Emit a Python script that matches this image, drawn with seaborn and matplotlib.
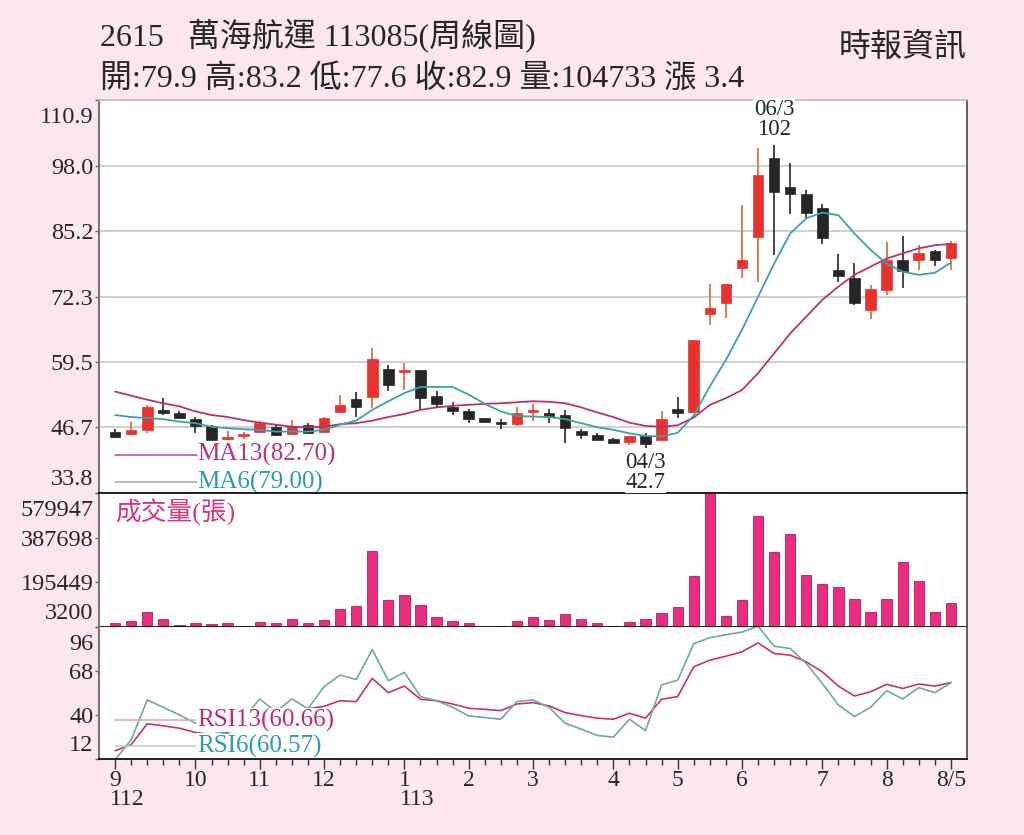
import numpy as np
import pandas as pd
import matplotlib
matplotlib.use("Agg")
import matplotlib.pyplot as plt
import matplotlib.transforms as mtransforms
import seaborn as sns

# ─────────────────────────────────────────────
# DATA  (weekly bars, 112/09 -> 113/08/05)
# ─────────────────────────────────────────────
open_px = [45.85, 45.3, 46.2, 50.1, 49.5, 48.3, 47.0, 44.4, 45.0, 45.85,
           46.7, 45.4, 47.2, 45.85, 49.6, 52.2, 52.7, 58.1, 57.6, 57.9,
           52.9, 50.6, 49.8, 48.5, 47.6, 47.4, 49.7, 49.5, 49.1, 46.05,
           45.2, 44.3, 43.9, 44.9, 44.2, 50.3, 49.6, 68.9, 71.0, 78.0,
           84.1, 99.6, 93.9, 92.4, 89.8, 77.5, 75.9, 69.7, 73.6, 79.6,
           79.5, 81.3, 79.9]
high_px = [46.3, 47.8, 51.1, 52.4, 49.8, 48.7, 47.2, 45.9, 45.8, 48.0,
           47.2, 48.1, 47.5, 48.8, 53.1, 53.7, 62.3, 59.0, 59.3, 58.0,
           53.9, 51.7, 50.2, 48.6, 48.3, 50.6, 51.3, 50.2, 50.1, 46.3,
           45.5, 44.5, 45.0, 45.5, 49.8, 52.6, 63.9, 74.9, 74.9, 90.3,
           101.4, 102.0, 98.6, 93.2, 90.4, 80.7, 79.0, 74.6, 83.1, 84.2,
           82.4, 81.5, 83.2]
low_px = [44.7, 45.2, 45.5, 49.1, 48.3, 45.5, 44.2, 44.2, 44.3, 45.5,
          45.0, 45.2, 45.4, 45.65, 49.5, 48.7, 50.4, 53.9, 54.1, 50.1,
          50.4, 49.1, 47.5, 47.7, 46.3, 47.0, 48.0, 47.6, 43.7, 44.3,
          44.1, 43.6, 43.2, 42.7, 44.1, 48.5, 49.5, 66.8, 68.1, 75.9,
          75.1, 80.5, 88.5, 87.8, 82.6, 75.1, 70.7, 67.9, 72.6, 74.1,
          77.5, 78.4, 77.6]
close_px = [44.85, 46.2, 50.6, 49.5, 48.5, 47.0, 44.2, 44.8, 45.3, 47.6,
            45.2, 47.0, 45.65, 48.6, 51.1, 50.6, 60.1, 55.0, 58.0, 52.4,
            51.3, 49.8, 48.3, 47.8, 47.4, 49.5, 50.0, 48.7, 46.5, 45.2,
            44.2, 43.7, 44.9, 43.4, 48.3, 49.5, 63.8, 70.0, 74.9, 79.6,
            96.2, 92.9, 92.4, 88.7, 83.8, 76.4, 71.1, 73.8, 79.6, 77.3,
            80.8, 79.5, 82.9]
ma13 = [53.7, 52.9, 52.1, 51.4, 50.8, 49.8, 49.1, 48.7, 48.1, 47.6,
        47.2, 46.8, 46.7, 46.8, 47.3, 47.5, 48.0, 48.7, 49.3, 50.1,
        50.6, 50.9, 51.1, 51.3, 51.4, 51.6, 51.8, 51.7, 51.4, 50.6,
        49.6, 48.7, 47.6, 46.96, 46.8, 47.1, 48.6, 51.1, 52.4, 54.0,
        57.3, 61.2, 65.1, 68.4, 71.7, 74.3, 76.6, 78.2, 79.8, 80.8,
        81.8, 82.4, 82.7]
ma6 = [49.1, 48.7, 48.5, 48.3, 47.8, 47.5, 46.8, 46.5, 46.3, 46.2,
       45.85, 45.85, 45.85, 46.2, 47.2, 48.0, 50.1, 51.8, 53.4, 54.6,
       54.6, 54.6, 53.1, 51.3, 49.8, 48.9, 48.8, 48.7, 48.3, 47.5,
       46.7, 46.2, 45.5, 45.0, 44.9, 45.6, 49.0, 54.7, 59.9, 65.8,
       72.3, 78.8, 84.7, 87.7, 88.8, 88.3, 84.7, 81.5, 78.8, 77.2,
       76.6, 77.0, 79.0]
volume = [22000, 27900, 68200, 36500, 11900, 22000, 17600, 19200, 8800, 23400,
          19200, 39200, 19200, 33600, 79800, 94300, 331400, 120300, 142000, 98600,
          47900, 27900, 22000, 3200, 8800, 29200, 46600, 33600, 59600, 36500,
          19200, 8800, 24900, 36500, 62500, 88600, 224300, 579947, 50900, 120300,
          480200, 325400, 405100, 227400, 188300, 173600, 123300, 69600, 121600, 282000,
          201300, 69600, 104733]
rsi13 = [17.3, 21.1, 34.4, 33.1, 31.6, 28.9, 30.0, 29.0, 33.0, 40.0,
         40.0, 42.0, 44.0, 45.5, 49.1, 48.5, 63.3, 54.2, 58.4, 50.0,
         49.1, 47.0, 44.3, 43.6, 42.8, 47.0, 47.9, 45.8, 41.5, 39.6,
         38.0, 37.3, 41.1, 38.0, 50.0, 51.7, 70.7, 74.9, 77.4, 80.2,
         85.9, 79.1, 78.1, 73.8, 67.5, 58.4, 52.1, 54.8, 59.5, 56.9,
         59.7, 58.4, 60.66]
rsi6 = [11.5, 24.2, 49.6, 44.9, 40.1, 34.8, 30.0, 28.0, 38.0, 50.2,
        42.0, 50.2, 44.0, 58.0, 65.4, 62.6, 81.6, 61.8, 67.1, 51.7,
        49.1, 44.9, 39.4, 38.4, 37.3, 48.5, 49.6, 44.9, 34.8, 31.0,
        27.0, 25.9, 37.3, 30.1, 59.1, 62.2, 85.4, 89.2, 91.1, 92.8,
        96.5, 83.8, 82.3, 72.8, 60.1, 46.4, 39.0, 44.9, 55.5, 50.2,
        57.4, 54.2, 60.57]
week = list(range(len(close_px)))

month_pos = [0, 5, 9, 13, 18, 22, 26, 31, 35, 39, 44, 48, 52]
month_lbl = ["9", "10", "11", "12", "1", "2", "3", "4", "5", "6", "7", "8", "8/5"]
year_pos = [0, 18]
year_lbl = ["112", "113"]
price_ticks = [33.8, 46.7, 59.5, 72.3, 85.2, 98.0, 110.9]
vol_ticks = [3200, 195449, 387698, 579947]
rsi_ticks = [12, 40, 68, 96]

# ─────────────────────────────────────────────
# STYLE
# ─────────────────────────────────────────────
PINK_BG = "#fce7ef"
RED = "#e8322e"
RED_WICK = "#cf6a3a"
BLACK = "#262626"
MA13_C = "#b8336a"
MA6_C = "#3c9fae"
VOL_C = "#ec2c80"

sns.set_theme(style="white")
plt.rcParams["font.family"] = ["Liberation Serif", "Noto Sans CJK TC"]

fig = plt.figure(figsize=(10.24, 8.35), dpi=100, facecolor=PINK_BG)
L, W = 99 / 1024, 868 / 1024
ax_p = fig.add_axes([L, 1 - 493 / 835, W, 393 / 835])
ax_v = fig.add_axes([L, 1 - 627 / 835, W, 134 / 835], sharex=ax_p)
ax_r = fig.add_axes([L, 1 - 759 / 835, W, 132 / 835], sharex=ax_p)
ax_p.set_zorder(3)

df = pd.DataFrame({"week": week, "open": open_px, "high": high_px,
                   "low": low_px, "close": close_px})
up = (df["close"] >= df["open"]).to_numpy()
body_lo = np.minimum(df["open"], df["close"])
body_h = np.maximum((df["close"] - df["open"]).abs(), 0.35)

# --- price panel ---
ax_p.vlines(df["week"], df["low"], df["high"],
            colors=np.where(up, RED_WICK, BLACK), lw=1.2, zorder=2)
ax_p.bar(df["week"], body_h, bottom=body_lo, width=0.66,
         color=np.where(up, RED, BLACK), edgecolor=np.where(up, RED, BLACK),
         linewidth=0.5, zorder=2.1)
sns.lineplot(x=week, y=ma13, color=MA13_C, lw=1.3, ax=ax_p, zorder=2.3)
sns.lineplot(x=week, y=ma6, color=MA6_C, lw=1.3, ax=ax_p, zorder=2.3)

ax_p.set_ylim(price_ticks[0], price_ticks[-1])
ax_p.set_yticks(price_ticks, [f"{t:.1f}" for t in price_ticks])
ax_p.yaxis.grid(True, color="#c8c8c8", lw=1.2)
ax_p.set_axisbelow(True)

ax_p.annotate("06/3\n102", xy=(41, 102.0), xytext=(0, 4), textcoords="offset points",
              ha="center", va="bottom", fontsize=16.5, linespacing=0.95,
              bbox=dict(fc="white", ec="none", pad=0.3), zorder=4)
ax_p.annotate("04/3\n42.7", xy=(33, 42.7), xytext=(0, -3), textcoords="offset points",
              ha="center", va="top", fontsize=16.5, linespacing=0.95,
              bbox=dict(fc="white", ec="none", pad=0.3), zorder=4)

# MA legend
ax_p.plot([0.018, 0.113], [0.097, 0.097], transform=ax_p.transAxes, color="#c04a78", lw=1.1)
ax_p.plot([0.018, 0.113], [0.028, 0.028], transform=ax_p.transAxes, color="#9aabab", lw=1.1)
ax_p.text(0.113, 0.097, "MA13(82.70)", transform=ax_p.transAxes, color="#c03070",
          fontsize=18, va="center", ha="left", zorder=2.4)
ax_p.text(0.113, 0.028, "MA6(79.00)", transform=ax_p.transAxes, color="#2a9ab5",
          fontsize=18, va="center", ha="left", zorder=2.4)

# --- volume panel ---
sns.barplot(x=week, y=volume, native_scale=True, width=0.64, color=VOL_C,
            saturation=1, edgecolor="#a8205a", linewidth=0.6, errorbar=None, ax=ax_v)
ax_v.set_ylim(vol_ticks[0], vol_ticks[-1])
ax_v.set_yticks(vol_ticks, [str(t) for t in vol_ticks])
ax_v.text(0.018, 0.855, "成交量(張)", transform=ax_v.transAxes, color="#e0307a",
          fontsize=18.5, va="center", ha="left")

# --- RSI panel ---
sns.lineplot(x=week, y=rsi13, color="#c8306b", lw=1.2, ax=ax_r, zorder=2)
sns.lineplot(x=week, y=rsi6, color="#6aa8aa", lw=1.2, ax=ax_r, zorder=2)
ax_r.set_ylim(rsi_ticks[0], rsi_ticks[-1])
ax_r.set_yticks(rsi_ticks, [str(t) for t in rsi_ticks])

ax_r.plot([0.018, 0.113], [0.295, 0.295], transform=ax_r.transAxes, color="#e0a0b8", lw=1.1)
ax_r.plot([0.018, 0.113], [0.098, 0.098], transform=ax_r.transAxes, color="#c0cccc", lw=1.1)
ax_r.text(0.113, 0.295, "RSI13(60.66)", transform=ax_r.transAxes, color="#c8286a",
          fontsize=18, va="center", ha="left", zorder=2.4,
          bbox=dict(fc="white", ec="none", pad=0.6))
ax_r.text(0.113, 0.098, "RSI6(60.57)", transform=ax_r.transAxes, color="#2a9ab5",
          fontsize=18, va="center", ha="left", zorder=2.4,
          bbox=dict(fc="white", ec="none", pad=0.6))

# --- x axis ---
ax_r.set_xlim(-1, 53)
ax_r.set_xticks(month_pos, month_lbl)
ax_r.set_xticks(week, minor=True)
ax_r.tick_params(axis="x", which="major", direction="out", length=7, width=1,
                 color="#333333", labelsize=17, pad=1, bottom=True)
ax_r.tick_params(axis="x", which="minor", direction="out", length=4, width=1,
                 color="#333333", bottom=True)
for pos, lbl in zip(year_pos, year_lbl):
    ax_r.text(pos - 0.3, -0.31, lbl, transform=ax_r.get_xaxis_transform(),
              ha="left", va="center", fontsize=17)

for ax in (ax_p, ax_v):
    ax.tick_params(axis="x", which="both", bottom=False, labelbottom=False)

# --- frames / y ticks ---
shift_down = mtransforms.ScaledTranslation(0, -0.07, fig.dpi_scale_trans)
shift_up = mtransforms.ScaledTranslation(0, 0.03, fig.dpi_scale_trans)
for ax in (ax_p, ax_v, ax_r):
    ax.set_facecolor("white")
    ax.set_xlabel("")
    ax.set_ylabel("")
    ax.tick_params(axis="y", direction="out", length=3, width=1, color="#666666",
                   labelsize=17.5, pad=1, left=True)
    ax.spines["left"].set_color("#777777")
    ax.spines["left"].set_linewidth(1.5)
    ax.spines["right"].set_color("#555555")
    ax.spines["right"].set_linewidth(1.3)
    ax.spines["bottom"].set_color("black")
    ax.spines["bottom"].set_linewidth(1.2)
    labels = ax.get_yticklabels()
    labels[0].set_verticalalignment("bottom")
    labels[0].set_transform(labels[0].get_transform() + shift_up)
    labels[-1].set_verticalalignment("top")
    labels[-1].set_transform(labels[-1].get_transform() + shift_down)
ax_p.spines["top"].set_color("#c0c0c0")
ax_p.spines["top"].set_linewidth(1.2)
ax_v.spines["top"].set_visible(False)
ax_r.spines["top"].set_visible(False)

# --- header ---
fig.text(100 / 1024, 1 - 46 / 835, "2615   萬海航運 113085(周線圖)", fontsize=23,
         ha="left", va="baseline")
fig.text(100 / 1024, 1 - 88 / 835, "開:79.9 高:83.2 低:77.6 收:82.9 量:104733 漲 3.4",
         fontsize=23, ha="left", va="baseline")
fig.text(967 / 1024, 1 - 56 / 835, "時報資訊", fontsize=23, ha="right", va="baseline")

fig.savefig("out.png", dpi=100, facecolor=PINK_BG)
